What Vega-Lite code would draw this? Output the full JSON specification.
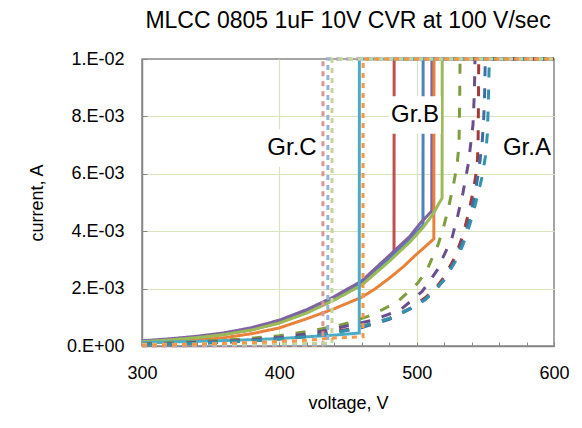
{
  "$schema": "https://vega.github.io/schema/vega-lite/v6.json",
  "width": 412,
  "height": 287,
  "autosize": {"type": "none"},
  "padding": {"left": 142, "top": 59, "right": 28, "bottom": 82},
  "background": "white",
  "title": {"text": "MLCC 0805 1uF 10V CVR at 100 V/sec", "fontSize": 23, "fontWeight": "normal", "font": "Liberation Sans", "color": "black", "anchor": "middle", "offset": 17},
  "config": {
    "font": "Liberation Sans",
    "view": {"stroke": "#868686", "strokeWidth": 1.5},
    "axis": {"labelFontSize": 18, "labelColor": "black", "labelFlush": false, "titleFontSize": 18, "titleFontWeight": "normal", "titleColor": "black", "domainColor": "#868686", "domainWidth": 1.5, "tickColor": "#868686", "gridColor": "#D7E4BD", "gridWidth": 1.2}
  },
  "datasets": {
    "curves": [
      {"s":"s01","v":300,"i":0.00015},{"s":"s01","v":320,"i":0.00021},{"s":"s01","v":340,"i":0.00029},{"s":"s01","v":360,"i":0.00041},{"s":"s01","v":380,"i":0.00057},{"s":"s01","v":400,"i":0.00082},{"s":"s01","v":420,"i":0.00117},{"s":"s01","v":440,"i":0.00162},{"s":"s01","v":460,"i":0.00215},{"s":"s01","v":470,"i":0.00255},{"s":"s01","v":483.5,"i":0.0032},{"s":"s01","v":483.6,"i":0.01},{"s":"s01","v":600,"i":0.01},
      {"s":"s02","v":300,"i":0.00016},{"s":"s02","v":320,"i":0.00022},{"s":"s02","v":340,"i":0.00031},{"s":"s02","v":360,"i":0.00043},{"s":"s02","v":380,"i":0.0006},{"s":"s02","v":400,"i":0.00085},{"s":"s02","v":420,"i":0.00121},{"s":"s02","v":440,"i":0.00166},{"s":"s02","v":460,"i":0.0022},{"s":"s02","v":480,"i":0.00305},{"s":"s02","v":495,"i":0.00372},{"s":"s02","v":504.6,"i":0.0042},{"s":"s02","v":504.7,"i":0.01},{"s":"s02","v":600,"i":0.01},
      {"s":"s03","v":300,"i":0.00018},{"s":"s03","v":320,"i":0.00025},{"s":"s03","v":340,"i":0.00034},{"s":"s03","v":360,"i":0.00046},{"s":"s03","v":380,"i":0.00064},{"s":"s03","v":400,"i":0.0009},{"s":"s03","v":420,"i":0.00127},{"s":"s03","v":440,"i":0.00172},{"s":"s03","v":460,"i":0.00227},{"s":"s03","v":480,"i":0.00315},{"s":"s03","v":495,"i":0.00382},{"s":"s03","v":503,"i":0.0043},{"s":"s03","v":511,"i":0.0047},{"s":"s03","v":511.1,"i":0.01},{"s":"s03","v":600,"i":0.01},
      {"s":"s04","v":300,"i":0.0001},{"s":"s04","v":320,"i":0.00014},{"s":"s04","v":340,"i":0.0002},{"s":"s04","v":360,"i":0.00029},{"s":"s04","v":380,"i":0.00043},{"s":"s04","v":400,"i":0.00063},{"s":"s04","v":420,"i":0.00095},{"s":"s04","v":440,"i":0.0013},{"s":"s04","v":460,"i":0.0017},{"s":"s04","v":470,"i":0.002},{"s":"s04","v":480,"i":0.00236},{"s":"s04","v":490,"i":0.00275},{"s":"s04","v":500,"i":0.0032},{"s":"s04","v":512.5,"i":0.00373},{"s":"s04","v":512.6,"i":0.01},{"s":"s04","v":600,"i":0.01},
      {"s":"s05","v":300,"i":0.00015},{"s":"s05","v":320,"i":0.00021},{"s":"s05","v":340,"i":0.00029},{"s":"s05","v":360,"i":0.0004},{"s":"s05","v":380,"i":0.00056},{"s":"s05","v":400,"i":0.0008},{"s":"s05","v":420,"i":0.00115},{"s":"s05","v":440,"i":0.0016},{"s":"s05","v":460,"i":0.00212},{"s":"s05","v":480,"i":0.00295},{"s":"s05","v":495,"i":0.00362},{"s":"s05","v":505,"i":0.00415},{"s":"s05","v":512,"i":0.0046},{"s":"s05","v":516,"i":0.00495},{"s":"s05","v":518.5,"i":0.00515},{"s":"s05","v":518.6,"i":0.01},{"s":"s05","v":600,"i":0.01},
      {"s":"s06","v":300,"i":0.00012},{"s":"s06","v":340,"i":0.00016},{"s":"s06","v":380,"i":0.00022},{"s":"s06","v":400,"i":0.00026},{"s":"s06","v":420,"i":0.00032},{"s":"s06","v":440,"i":0.00038},{"s":"s06","v":458.2,"i":0.00045},{"s":"s06","v":458.3,"i":0.01},{"s":"s06","v":600,"i":0.01},
      {"s":"s07","v":300,"i":0.00008},{"s":"s07","v":320,"i":0.00011},{"s":"s07","v":340,"i":0.00015},{"s":"s07","v":360,"i":0.0002},{"s":"s07","v":380,"i":0.00027},{"s":"s07","v":400,"i":0.00036},{"s":"s07","v":420,"i":0.0005},{"s":"s07","v":440,"i":0.00068},{"s":"s07","v":450,"i":0.0008},{"s":"s07","v":467.5,"i":0.00108},{"s":"s07","v":485.7,"i":0.00153},{"s":"s07","v":501,"i":0.0022},{"s":"s07","v":507.5,"i":0.00265},{"s":"s07","v":515.5,"i":0.00352},{"s":"s07","v":519,"i":0.00404},{"s":"s07","v":522.8,"i":0.00474},{"s":"s07","v":526.5,"i":0.00554},{"s":"s07","v":529.4,"i":0.0063},{"s":"s07","v":530.8,"i":0.007},{"s":"s07","v":531.3,"i":0.0085},{"s":"s07","v":531.6,"i":0.01},{"s":"s07","v":600,"i":0.01},
      {"s":"s08","v":300,"i":0.00006},{"s":"s08","v":320,"i":0.00009},{"s":"s08","v":340,"i":0.00012},{"s":"s08","v":360,"i":0.00016},{"s":"s08","v":380,"i":0.00022},{"s":"s08","v":400,"i":0.0003},{"s":"s08","v":420,"i":0.00042},{"s":"s08","v":440,"i":0.0006},{"s":"s08","v":468,"i":0.0009},{"s":"s08","v":488,"i":0.00125},{"s":"s08","v":504,"i":0.0019},{"s":"s08","v":510,"i":0.0023},{"s":"s08","v":516,"i":0.00272},{"s":"s08","v":519,"i":0.00307},{"s":"s08","v":525.7,"i":0.00376},{"s":"s08","v":530,"i":0.00456},{"s":"s08","v":533.7,"i":0.00533},{"s":"s08","v":537.4,"i":0.0063},{"s":"s08","v":539,"i":0.0069},{"s":"s08","v":541,"i":0.0077},{"s":"s08","v":542,"i":0.0088},{"s":"s08","v":542.5,"i":0.01},{"s":"s08","v":600,"i":0.01},
      {"s":"s09","v":300,"i":0.00005},{"s":"s09","v":320,"i":0.00007},{"s":"s09","v":340,"i":0.0001},{"s":"s09","v":360,"i":0.00014},{"s":"s09","v":380,"i":0.00018},{"s":"s09","v":400,"i":0.00025},{"s":"s09","v":420,"i":0.00035},{"s":"s09","v":440,"i":0.0005},{"s":"s09","v":460,"i":0.00066},{"s":"s09","v":480,"i":0.00095},{"s":"s09","v":495,"i":0.0013},{"s":"s09","v":506,"i":0.00167},{"s":"s09","v":514,"i":0.00202},{"s":"s09","v":520,"i":0.0024},{"s":"s09","v":528,"i":0.0031},{"s":"s09","v":533.7,"i":0.00386},{"s":"s09","v":538,"i":0.00467},{"s":"s09","v":541,"i":0.00537},{"s":"s09","v":544,"i":0.0062},{"s":"s09","v":544.7,"i":0.007},{"s":"s09","v":545,"i":0.0085},{"s":"s09","v":545.2,"i":0.01},{"s":"s09","v":600,"i":0.01},
      {"s":"s10","v":300,"i":0.00005},{"s":"s10","v":320,"i":0.00007},{"s":"s10","v":340,"i":0.0001},{"s":"s10","v":360,"i":0.00014},{"s":"s10","v":380,"i":0.00018},{"s":"s10","v":400,"i":0.00025},{"s":"s10","v":420,"i":0.00034},{"s":"s10","v":440,"i":0.00048},{"s":"s10","v":460,"i":0.00064},{"s":"s10","v":480,"i":0.00093},{"s":"s10","v":495,"i":0.00128},{"s":"s10","v":506,"i":0.00162},{"s":"s10","v":514,"i":0.00196},{"s":"s10","v":520,"i":0.00232},{"s":"s10","v":528,"i":0.00297},{"s":"s10","v":534,"i":0.0037},{"s":"s10","v":539,"i":0.0045},{"s":"s10","v":542.5,"i":0.0053},{"s":"s10","v":545.5,"i":0.0062},{"s":"s10","v":547.7,"i":0.0071},{"s":"s10","v":548.8,"i":0.0079},{"s":"s10","v":549.5,"i":0.0088},{"s":"s10","v":549.8,"i":0.0096},{"s":"s10","v":550,"i":0.01},{"s":"s10","v":600,"i":0.01},
      {"s":"s11","v":300,"i":0.00004},{"s":"s11","v":320,"i":0.00006},{"s":"s11","v":340,"i":0.00009},{"s":"s11","v":360,"i":0.00013},{"s":"s11","v":380,"i":0.00018},{"s":"s11","v":400,"i":0.00024},{"s":"s11","v":420,"i":0.00032},{"s":"s11","v":440,"i":0.00045},{"s":"s11","v":451,"i":0.00056},{"s":"s11","v":471,"i":0.00084},{"s":"s11","v":480,"i":0.00096},{"s":"s11","v":495,"i":0.0013},{"s":"s11","v":506,"i":0.0016},{"s":"s11","v":514,"i":0.00199},{"s":"s11","v":520,"i":0.0023},{"s":"s11","v":528,"i":0.00293},{"s":"s11","v":533.7,"i":0.00352},{"s":"s11","v":538.8,"i":0.00425},{"s":"s11","v":543,"i":0.00498},{"s":"s11","v":547.4,"i":0.00585},{"s":"s11","v":550,"i":0.00658},{"s":"s11","v":551.5,"i":0.0074},{"s":"s11","v":552.2,"i":0.0085},{"s":"s11","v":552.7,"i":0.0096},{"s":"s11","v":553,"i":0.01},{"s":"s11","v":600,"i":0.01},
      {"s":"s12","v":300,"i":0},{"s":"s12","v":380,"i":0.00001},{"s":"s12","v":431.7,"i":0.00002},{"s":"s12","v":431.8,"i":0.01},{"s":"s12","v":600,"i":0.01},
      {"s":"s13","v":300,"i":0.00003},{"s":"s13","v":380,"i":0.00004},{"s":"s13","v":435.3,"i":0.00006},{"s":"s13","v":435.4,"i":0.01},{"s":"s13","v":600,"i":0.01},
      {"s":"s14","v":300,"i":0.00006},{"s":"s14","v":380,"i":0.00007},{"s":"s14","v":438.3,"i":0.0001},{"s":"s14","v":438.4,"i":0.01},{"s":"s14","v":600,"i":0.01},
      {"s":"s15","v":300,"i":0.00003},{"s":"s15","v":340,"i":0.00006},{"s":"s15","v":380,"i":0.00012},{"s":"s15","v":420,"i":0.0002},{"s":"s15","v":440,"i":0.00028},{"s":"s15","v":460.9,"i":0.00032},{"s":"s15","v":461,"i":0.01},{"s":"s15","v":600,"i":0.01}
    ],
    "notes": [
      {"label": "Gr.C", "v": 409.2, "i": 0.0069},
      {"label": "Gr.B", "v": 498.8, "i": 0.00805},
      {"label": "Gr.A", "v": 580.3, "i": 0.0069}
    ]
  },
  "encoding": {
    "x": {"field": "v", "type": "quantitative", "scale": {"domain": [300, 600], "nice": false, "zero": false},
      "axis": {"title": "voltage, V", "values": [300,320,340,360,380,400,420,440,460,480,500,520,540,560,580,600], "format": "d", "labelExpr": "datum.value % 100 === 0 ? datum.label : ''", "grid": true, "gridOpacity": {"condition": {"test": "datum.value === 400 || datum.value === 500", "value": 1}, "value": 0}, "tickSize": -4, "labelPadding": 22, "titlePadding": 12}},
    "y": {"field": "i", "type": "quantitative", "scale": {"domain": [0, 0.01], "nice": false},
      "axis": {"title": "current, A", "values": [0, 0.002, 0.004, 0.006, 0.008, 0.01], "labelExpr": "datum.value === 0 ? '0.E+00' : datum.value > 0.0099 ? '1.E-02' : round(datum.value * 1000) + '.E-03'", "grid": true, "gridOpacity": {"condition": {"test": "datum.value > 0.0001 && datum.value < 0.0099", "value": 1}, "value": 0}, "tickSize": -5, "labelPadding": 23, "titlePadding": 20}}
  },
  "layer": [
    {
      "data": {"name": "curves"},
      "mark": {"type": "line", "strokeWidth": 3, "clip": false},
      "encoding": {
        "color": {"field": "s", "type": "nominal", "legend": null,
          "scale": {"domain": ["s01","s02","s03","s04","s05","s06","s07","s08","s09","s10","s11","s12","s13","s14","s15"],
            "range": ["#C0504D","#4F81BD","#8064A2","#E8823A","#9BBB59","#4BACC6","#7E9E3E","#6A4F8E","#A23B38","#3D6EA6","#3592AD","#D99694","#95B3D7","#C3D69B","#F79646"]}},
        "strokeDash": {"field": "s", "type": "nominal", "legend": null,
          "scale": {"domain": ["s01","s02","s03","s04","s05","s06","s07","s08","s09","s10","s11","s12","s13","s14","s15"],
            "range": [[1,0],[1,0],[1,0],[1,0],[1,0],[1,0],[10,12],[10,12],[10,12],[10,12],[10,12],[5,5],[5,5],[5,5],[5,5]]}}
      }
    },
    {
      "data": {"name": "notes"},
      "transform": [{"filter": "datum.label !== 'Gr.A'"}],
      "mark": {"type": "point", "filled": true, "color": "white", "opacity": 1, "size": 2704, "shape": "M-1,-0.72L1,-0.72L1,0.72L-1,0.72Z", "strokeWidth": 0}
    },
    {
      "data": {"name": "notes"},
      "mark": {"type": "text", "fontSize": 24, "font": "Liberation Sans", "color": "black", "align": "center", "baseline": "middle"},
      "encoding": {"text": {"field": "label"}}
    }
  ]
}
